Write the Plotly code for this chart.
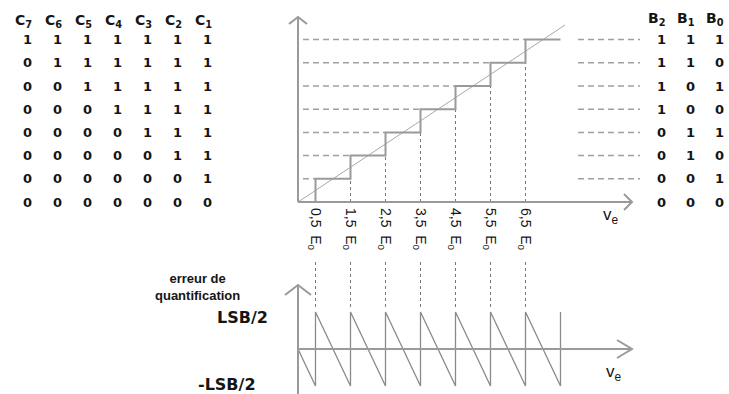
import plotly.graph_objects as go

# ---------------- data ----------------
levels = [0, 1, 2, 3, 4, 5, 6, 7]
thresholds = [0.5, 1.5, 2.5, 3.5, 4.5, 5.5, 6.5]
threshold_labels = ["0,5", "1,5", "2,5", "3,5", "4,5", "5,5", "6,5"]
step_x = [0, 0.5, 1.5, 2.5, 3.5, 4.5, 5.5, 6.5, 7.5]
step_y = [0, 1, 2, 3, 4, 5, 6, 7, 7]
ideal_x = [0, 7.63]
ideal_y = [0, 7.63]
saw_x = [0, 0.5, 0.5, 1.5, 1.5, 2.5, 2.5, 3.5, 3.5, 4.5, 4.5, 5.5, 5.5, 6.5, 6.5, 7.5, 7.5]
saw_err = [0, -0.5, 0.5, -0.5, 0.5, -0.5, 0.5, -0.5, 0.5, -0.5, 0.5, -0.5, 0.5, -0.5, 0.5, -0.5, 0.5]
thermo_header = ["C<sub>7</sub>", "C<sub>6</sub>", "C<sub>5</sub>", "C<sub>4</sub>",
                 "C<sub>3</sub>", "C<sub>2</sub>", "C<sub>1</sub>"]
binary_header = ["B<sub>2</sub>", "B<sub>1</sub>", "B<sub>0</sub>"]
code_levels = [7, 6, 5, 4, 3, 2, 1, 0]
thermo_codes = ["1111111", "0111111", "0011111", "0001111",
                "0000111", "0000011", "0000001", "0000000"]
binary_codes = ["111", "110", "101", "100", "011", "010", "001", "000"]

# ---------------- layout geometry (pixels) ----------------
W, H = 729, 394
X0_PX, PX_PER_E = 298, 35.0          # shared horizontal scale
Y0_PX, PX_PER_LVL = 202, 23.2        # upper graph vertical scale
E0_PX, PX_PER_LSB = 349, 74.0        # lower graph vertical scale
LOW_TOP_PX = 255                     # top of lower graph area


def ex(px):
    return (px - X0_PX) / PX_PER_E


def ly(py):
    return (Y0_PX - py) / PX_PER_LVL


def ey(py):
    return (E0_PX - py) / PX_PER_LSB


GRAY = "#9a9a9a"
TXT = "#151515"
FONT = "Liberation Sans, Arial, sans-serif"
WIDE = "DejaVu Sans, Verdana, sans-serif"

fig = go.Figure()

# ---------- upper graph ----------
gx, gy = [], []
for k, xs in zip(levels[1:], thresholds):
    gx += [ex(303), xs, None, ex(578), ex(640), None]
    gy += [k, k, None, k, k, None]
fig.add_trace(go.Scatter(x=gx, y=gy, mode="lines", xaxis="x", yaxis="y",
                         line=dict(color="#a0a0a0", width=1.5, dash="6px,4px"),
                         hoverinfo="skip"))
vx, vy = [], []
for k, xs in zip(levels[1:], thresholds):
    if k > 1:
        vx += [xs, xs, None]
        vy += [0, k - 1, None]
fig.add_trace(go.Scatter(x=vx, y=vy, mode="lines", xaxis="x", yaxis="y",
                         line=dict(color="#777777", width=1, dash="3px,3px"),
                         hoverinfo="skip"))
fig.add_trace(go.Scatter(x=ideal_x, y=ideal_y, mode="lines", xaxis="x", yaxis="y",
                         line=dict(color="#a8a8a8", width=1), hoverinfo="skip"))
fig.add_trace(go.Scatter(x=step_x, y=step_y, mode="lines", line_shape="hv",
                         xaxis="x", yaxis="y",
                         line=dict(color=GRAY, width=2), hoverinfo="skip"))
ytip, xtip = ly(17), ex(632)
ax_x = [0, 0, None, ex(X0_PX - 9), 0, ex(X0_PX + 9), None,
        0, xtip, None, ex(632 - 8), xtip, ex(632 - 8)]
ax_y = [0, ytip, None, ytip - 7 / PX_PER_LVL, ytip, ytip - 7 / PX_PER_LVL, None,
        0, 0, None, 8 / PX_PER_LVL, 0, -8 / PX_PER_LVL]
fig.add_trace(go.Scatter(x=ax_x, y=ax_y, mode="lines", xaxis="x", yaxis="y",
                         line=dict(color=GRAY, width=2), hoverinfo="skip"))

# ---------- lower graph ----------
dx, dy = [], []
for xs in thresholds:
    dx += [xs, xs, None]
    dy += [ey(262), ey(308), None]
fig.add_trace(go.Scatter(x=dx, y=dy, mode="lines", xaxis="x2", yaxis="y2",
                         line=dict(color="#777777", width=1, dash="3px,3px"),
                         hoverinfo="skip"))
fig.add_trace(go.Scatter(x=saw_x, y=saw_err, mode="lines", xaxis="x2", yaxis="y2",
                         line=dict(color="#8a8a8a", width=1.3), hoverinfo="skip"))
ytip2 = ey(285)
bx = [0, 0, None, ex(X0_PX - 13), 0, ex(X0_PX + 13), None,
      0, xtip, None, ex(632 - 15), xtip, ex(632 - 15)]
by = [ey(400), ytip2, None, ytip2 - 10 / PX_PER_LSB, ytip2, ytip2 - 10 / PX_PER_LSB, None,
      0, 0, None, 9 / PX_PER_LSB, 0, -9 / PX_PER_LSB]
fig.add_trace(go.Scatter(x=bx, y=by, mode="lines", xaxis="x2", yaxis="y2",
                         line=dict(color=GRAY, width=2), hoverinfo="skip"))

# ---------- text ----------
ann = []
col_px = [27, 57, 87, 117, 147, 177, 207]
hfont = dict(size=14, color=TXT, family=WIDE)
dfont = dict(size=13, color=TXT, family=WIDE)
for h, cx in zip(thermo_header, col_px):
    ann.append(dict(x=ex(cx), y=ly(21), text="<b>" + h + "</b>", xshift=-4,
                    showarrow=False, xref="x", yref="y", font=hfont))
for lv, code in zip(code_levels, thermo_codes):
    for ch, cx in zip(code, col_px):
        ann.append(dict(x=ex(cx), y=lv, text="<b>" + ch + "</b>", showarrow=False,
                        xref="x", yref="y", font=dfont))
bcol_px = [661, 690, 719]
for h, cx in zip(binary_header, bcol_px):
    ann.append(dict(x=ex(cx), y=ly(19), text="<b>" + h + "</b>", xshift=-4,
                    showarrow=False, xref="x", yref="y", font=hfont))
for lv, code in zip(code_levels, binary_codes):
    for ch, cx in zip(code, bcol_px):
        ann.append(dict(x=ex(cx), y=lv, text="<b>" + ch + "</b>", showarrow=False,
                        xref="x", yref="y", font=dfont))
for xs, lab in zip(thresholds, threshold_labels):
    ann.append(dict(x=xs, y=ly(206), text=lab + "  E<sub>0</sub>", textangle=90,
                    xanchor="center", yanchor="top", showarrow=False,
                    xref="x", yref="y", font=dict(size=14, color=TXT, family=FONT)))
ann.append(dict(x=ex(611), y=ly(216), text="v<sub>e</sub>", showarrow=False,
                xref="x", yref="y", font=dict(size=17, color=TXT, family=FONT)))
ann.append(dict(x=ex(614), y=ey(373), text="v<sub>e</sub>", showarrow=False,
                xref="x2", yref="y2", font=dict(size=17, color=TXT, family=FONT)))
ann.append(dict(x=ex(242), y=ey(287), text="<b>erreur de<br>quantification</b>",
                xanchor="right", align="center", showarrow=False,
                xref="x2", yref="y2", font=dict(size=13, color=TXT, family=FONT)))
ann.append(dict(x=ex(270), y=ey(317), text="<b>LSB/2</b>", xanchor="right",
                showarrow=False, xref="x2", yref="y2",
                font=dict(size=16, color=TXT, family=WIDE)))
ann.append(dict(x=ex(258), y=ey(384), text="<b>-LSB/2</b>", xanchor="right",
                showarrow=False, xref="x2", yref="y2",
                font=dict(size=16, color=TXT, family=WIDE)))

xr = [ex(0), ex(W)]
fig.update_layout(
    width=W, height=H, autosize=False,
    margin=dict(l=0, r=0, t=0, b=0),
    paper_bgcolor="white", plot_bgcolor="rgba(0,0,0,0)",
    showlegend=False,
    xaxis=dict(range=xr, domain=[0, 1], visible=False, fixedrange=True),
    yaxis=dict(range=[ly(H), ly(0)], domain=[0, 1], visible=False, fixedrange=True),
    xaxis2=dict(range=xr, domain=[0, 1], visible=False, anchor="y2", fixedrange=True),
    yaxis2=dict(range=[ey(H), ey(LOW_TOP_PX)], domain=[0, 1 - LOW_TOP_PX / H],
                visible=False, anchor="x2", fixedrange=True),
    annotations=ann,
)

fig.write_html("out.html", config={"staticPlot": True},
               post_script="document.body.style.margin='0px';")
